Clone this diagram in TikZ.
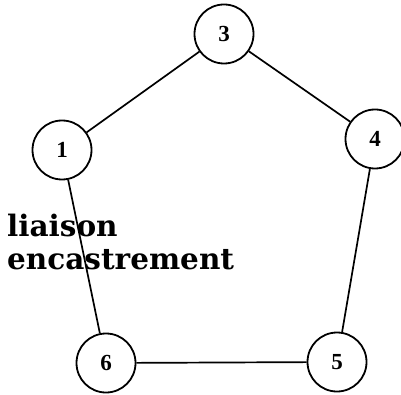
\documentclass[tikz,border=0pt]{standalone}
\usepackage{fontspec}
\setmainfont{DejaVu Serif}
\newfontfamily\digitfont{Liberation Serif}
\begin{document}
\begin{tikzpicture}[x=1pt,y=-1pt,
  vert/.style={circle,draw,line width=1.8pt,minimum size=59pt,inner sep=0pt,font=\digitfont\bfseries\fontsize{23}{25}\selectfont,fill=white},
  edge/.style={line width=1.7pt}]
\useasboundingbox (0,0) rectangle (401,395);
\node[anchor=north west,align=left,inner sep=0pt,font=\bfseries\fontsize{29.5}{33}\selectfont] (t) at (7,214) {liaison\\encastrement};
\node[vert] (n3) at (224,34) {3};
\node[vert] (n1) at (62,150) {1};
\node[vert] (n4) at (375,139) {4};
\node[vert] (n6) at (106,363) {6};
\node[vert] (n5) at (337,362) {5};
\draw[edge] (n3) -- (n1);
\draw[edge] (n3) -- (n4);
\draw[edge] (n4) -- (n5);
\draw[edge] (n5) -- (n6);
\draw[edge] (n1) -- (n6);
\end{tikzpicture}
\end{document}
